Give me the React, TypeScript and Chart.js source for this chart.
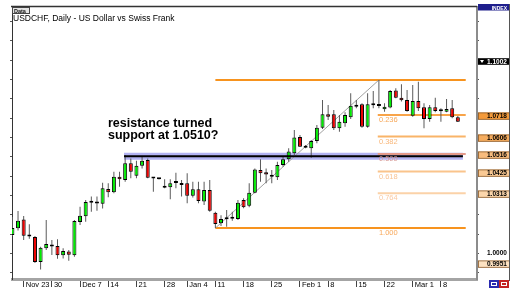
import React, { useEffect, useRef } from 'react';
import { Chart, registerables } from 'chart.js';
Chart.register(...registerables);

// Daily USDCHF candles, one per trading day (index 0 = Nov 19, 2009 ... index 79 = Mar 11, 2010)
const opens = [1.0096, 1.0131, 1.0177, 1.0090, 1.0086, 0.9956, 1.0027, 1.0038, 1.0039, 0.9991,
  1.0010, 0.9991, 1.0163, 1.0193, 1.0269, 1.0261, 1.0258, 1.0334, 1.0317, 1.0398,
  1.0381, 1.0468, 1.0403, 1.0455, 1.0485, 1.0391, 1.0387, 1.0351, 1.0343, 1.0367,
  1.0366, 1.0364, 1.0299, 1.0333, 1.0269, 1.0329, 1.0212, 1.0157, 1.0180, 1.0182,
  1.0179, 1.0277, 1.0248, 1.0315, 1.0433, 1.0421, 1.0400, 1.0395, 1.0459, 1.0488,
  1.0519, 1.0604, 1.0557, 1.0545, 1.0583, 1.0652, 1.0721, 1.0721, 1.0649, 1.0675,
  1.0706, 1.0761, 1.0773, 1.0657, 1.0770, 1.0769, 1.0747, 1.0756, 1.0844, 1.0807,
  1.0795, 1.0714, 1.0790, 1.0758, 1.0697, 1.0758, 1.0739, 1.0735, 1.0752, 1.0706];
const highs = [1.0189, 1.0220, 1.0194, 1.0152, 1.0091, 1.0035, 1.0174, 1.0070, 1.0074, 1.0027,
  1.0018, 1.0174, 1.0243, 1.0277, 1.0295, 1.0295, 1.0367, 1.0364, 1.0424, 1.0424,
  1.0511, 1.0493, 1.0481, 1.0505, 1.0493, 1.0393, 1.0388, 1.0385, 1.0385, 1.0419,
  1.0381, 1.0416, 1.0372, 1.0372, 1.0372, 1.0381, 1.0217, 1.0199, 1.0226, 1.0217,
  1.0277, 1.0286, 1.0364, 1.0441, 1.0488, 1.0441, 1.0433, 1.0476, 1.0502, 1.0545,
  1.0640, 1.0614, 1.0562, 1.0588, 1.0666, 1.0795, 1.0769, 1.0744, 1.0718, 1.0732,
  1.0830, 1.0795, 1.0778, 1.0830, 1.0842, 1.0899, 1.0778, 1.0847, 1.0856, 1.0877,
  1.0847, 1.0873, 1.0890, 1.0778, 1.0769, 1.0807, 1.0752, 1.0801, 1.0795, 1.0712];
const lows = [1.0091, 1.0119, 1.0070, 1.0077, 0.9951, 0.9918, 1.0018, 0.9992, 0.9973, 0.9975,
  0.9963, 0.9984, 1.0148, 1.0165, 1.0217, 1.0222, 1.0234, 1.0291, 1.0312, 1.0346,
  1.0372, 1.0390, 1.0390, 1.0441, 1.0390, 1.0320, 1.0384, 1.0338, 1.0281, 1.0338,
  1.0295, 1.0260, 1.0290, 1.0260, 1.0252, 1.0217, 1.0132, 1.0143, 1.0139, 1.0170,
  1.0174, 1.0235, 1.0240, 1.0312, 1.0372, 1.0364, 1.0364, 1.0381, 1.0450, 1.0476,
  1.0511, 1.0552, 1.0545, 1.0496, 1.0571, 1.0645, 1.0692, 1.0640, 1.0631, 1.0657,
  1.0697, 1.0752, 1.0652, 1.0652, 1.0752, 1.0752, 1.0735, 1.0752, 1.0804, 1.0787,
  1.0735, 1.0709, 1.0738, 1.0649, 1.0683, 1.0732, 1.0683, 1.0732, 1.0701, 1.0681];
const closes = [1.0132, 1.0170, 1.0092, 1.0088, 0.9956, 1.0030, 1.0049, 1.0036, 0.9991, 1.0013,
  0.9994, 1.0169, 1.0196, 1.0267, 1.0263, 1.0259, 1.0338, 1.0317, 1.0398, 1.0385,
  1.0468, 1.0424, 1.0455, 1.0481, 1.0393, 1.0389, 1.0385, 1.0341, 1.0364, 1.0365,
  1.0355, 1.0299, 1.0333, 1.0272, 1.0329, 1.0222, 1.0153, 1.0179, 1.0178, 1.0180,
  1.0263, 1.0240, 1.0315, 1.0436, 1.0416, 1.0410, 1.0398, 1.0459, 1.0488, 1.0528,
  1.0601, 1.0553, 1.0548, 1.0583, 1.0652, 1.0721, 1.0709, 1.0649, 1.0683, 1.0718,
  1.0766, 1.0769, 1.0657, 1.0773, 1.0768, 1.0764, 1.0761, 1.0842, 1.0807, 1.0794,
  1.0738, 1.0790, 1.0752, 1.0697, 1.0758, 1.0738, 1.0737, 1.0749, 1.0706, 1.0683];

const xTickIndex = [2, 7, 12, 17, 22, 27, 31, 36, 41, 46, 51, 56, 61, 66, 71, 76];
const xTickLabels = ['Nov 23', '30', 'Dec 7', '14', '21', '28', 'Jan 4', '11', '18', '25', 'Feb 1', '8', '15', '22', 'Mar 1', '8'];

const yTickValues = [1.1202, 1.1102, 1.1002, 1.0902, 1.0802, 1.0701, 1.0601, 1.0501, 1.0401, 1.0301, 1.0200, 1.0100, 1.0000, 0.9900];
const yLabelled = [1.0000];

const fibPrices = [1.0899, 1.0718, 1.0606, 1.0516, 1.0425, 1.0313, 1.0132];
const fibNames = ['', '0.236', '0.382', '0.500', '0.618', '0.764', '1.000'];
const fibStartX = [36, 64.8, 64.8, 64.8, 64.8, 64.8, 36];
const fibEndX = [80.4, 80.4, 80.4, 80.4, 80.4, 80.4, 80.4];
const fibLabelX = 65;
const fibLineColors = ['#F7931E', '#F8A449', '#F9B468', '#E49A8A', '#FAC48C', '#FBD2A8', '#F7931E'];
const fibTextColors = ['', '#F6A85A', '#F8B77A', '#D99C98', '#F9C393', '#FAC9A2', '#F8A85A'];

const trendX = [36, 65];
const trendY = [1.0132, 1.0899];

const supportPrice = 1.0504;
const supportX = [19.8, 79.9];

const boxPrices = [1.0718, 1.0606, 1.0516, 1.0425, 1.0313, 0.9951];
const boxLabels = ['1.0718', '1.0606', '1.0516', '1.0425', '1.0313', '0.9951'];
const boxColors = ['#F39A3A', '#F5AC5E', '#F7BC7E', '#F9C994', '#FBD6AC', '#FDE2C2'];
const markerPrice = 1.1002;
const markerLabel = '1.1002';

const noteLines = ['resistance turned', 'support at 1.0510?'];
const noteX = 16.95;
const notePrices = [1.0658, 1.0591];

const Y_MIN = 0.98682;
const Y_MAX = 1.12771;
const X_MIN = -0.07;
const X_MAX = 82.4;

const FONT = '"Liberation Sans", Arial, sans-serif';

const overlay = {
  id: 'overlay',
  afterDatasetsDraw(chart: any) {
    const { ctx, scales } = chart;
    const x = scales.x, y = scales.y;
    ctx.save();
    ctx.textAlign = 'left';
    ctx.textBaseline = 'alphabetic';
    ctx.font = '7.5px ' + FONT;
    fibNames.forEach((n, i) => {
      if (!n) return;
      ctx.fillStyle = fibTextColors[i];
      ctx.fillText(n, x.getPixelForValue(fibLabelX), y.getPixelForValue(fibPrices[i]) + 7);
    });
    ctx.font = 'bold 12.5px ' + FONT;
    ctx.fillStyle = '#000';
    noteLines.forEach((t, i) => {
      ctx.fillText(t, x.getPixelForValue(noteX), y.getPixelForValue(notePrices[i]));
    });
    ctx.restore();
  },
  afterDraw(chart: any) {
    const { ctx, chartArea, scales } = chart;
    const y = scales.y;
    ctx.save();
    ctx.strokeStyle = '#333';
    ctx.lineWidth = 1.5;
    ctx.beginPath();
    ctx.moveTo(chartArea.left - 1, 6.5);
    ctx.lineTo(chartArea.right, 6.5);
    ctx.stroke();
    ctx.strokeStyle = '#555';
    ctx.lineWidth = 1;
    ctx.beginPath();
    ctx.moveTo(509.5, 4);
    ctx.lineTo(509.5, 281);
    ctx.stroke();
    ctx.fillStyle = '#E4E4E4';
    ctx.fillRect(12, 7, 18, 6.5);
    ctx.strokeStyle = '#444';
    ctx.strokeRect(12.5, 7.5, 17, 6);
    ctx.fillStyle = '#111';
    ctx.font = 'bold 5.5px ' + FONT;
    ctx.textBaseline = 'alphabetic';
    ctx.textAlign = 'left';
    ctx.fillText('Data', 14, 12.8);
    ctx.font = '8.5px ' + FONT;
    ctx.fillStyle = '#000';
    ctx.fillText('USDCHF, Daily - US Dollar vs Swiss Frank', 13, 21);
    ctx.fillStyle = '#1E1E8C';
    ctx.fillRect(478, 4, 31, 6.5);
    ctx.fillStyle = '#fff';
    ctx.font = 'bold 5px ' + FONT;
    ctx.textAlign = 'right';
    ctx.fillText('INDEX', 507, 9.5);
    ctx.textAlign = 'left';
    ctx.beginPath();
    ctx.rect(478, 0, 31, 308);
    ctx.clip();
    ctx.font = 'bold 6.5px ' + FONT;
    ctx.textBaseline = 'middle';
    boxPrices.forEach((p, i) => {
      const py = Math.round(y.getPixelForValue(p)) + 1;
      ctx.fillStyle = boxColors[i];
      ctx.fillRect(478, py - 3.5, 31, 7);
      ctx.strokeStyle = '#8A5A2A';
      ctx.lineWidth = 0.8;
      ctx.strokeRect(478.4, py - 3.1, 31, 6.4);
      ctx.fillStyle = '#000';
      ctx.fillText(boxLabels[i], 487, py + 0.5);
    });
    const my = Math.round(y.getPixelForValue(markerPrice)) + 1.5;
    ctx.fillStyle = '#000';
    ctx.fillRect(478, my - 3.3, 31, 6.6);
    ctx.fillStyle = '#fff';
    ctx.beginPath();
    ctx.moveTo(480, my - 1.5);
    ctx.lineTo(484, my - 1.5);
    ctx.lineTo(482, my + 1.5);
    ctx.closePath();
    ctx.fill();
    ctx.fillText(markerLabel, 487, my + 0.5);
    ctx.restore();
    ctx.save();
    ctx.fillStyle = '#2A2AB0';
    ctx.fillRect(489, 280, 10, 8);
    ctx.fillStyle = '#C42424';
    ctx.fillRect(499, 280, 10, 8);
    ctx.strokeStyle = '#fff';
    ctx.lineWidth = 1;
    ctx.strokeRect(491.5, 282.5, 5, 3);
    ctx.strokeRect(501.5, 282.5, 5, 3);
    ctx.restore();
  },
};

const noPad = (s: any) => {
  s.paddingTop = 0;
  s.paddingBottom = 0;
  s.paddingLeft = 0;
  s.paddingRight = 0;
};

export default function App() {
  const ref = useRef<HTMLCanvasElement>(null);
  useEffect(() => {
    const bodyColors = opens.map((o, i) => (closes[i] >= o ? '#00EE00' : '#EE0000'));
    const fibSets = fibPrices.map((p, i) => ({
      type: 'line' as const,
      data: [{ x: fibStartX[i], y: p }, { x: fibEndX[i], y: p }],
      borderColor: fibLineColors[i],
      borderWidth: 2,
      pointRadius: 0,
      fill: false,
      order: 9,
    }));
    const chart = new Chart(ref.current as HTMLCanvasElement, {
      type: 'bar',
      data: {
        datasets: [
          {
            type: 'line',
            data: [{ x: supportX[0], y: supportPrice }, { x: supportX[1], y: supportPrice }],
            borderColor: '#B2B2F2',
            borderWidth: 7,
            pointRadius: 0,
            fill: false,
            order: 10,
          } as any,
          ...fibSets,
          {
            type: 'line',
            data: [{ x: trendX[0], y: trendY[0] }, { x: trendX[1], y: trendY[1] }],
            borderColor: '#A0A0A0',
            borderWidth: 1,
            pointRadius: 0,
            fill: false,
            order: 8,
          } as any,
          {
            type: 'bar',
            data: lows.map((l, i) => ({ x: i, y: [l, highs[i]] })),
            backgroundColor: '#5A5A5A',
            borderWidth: 0,
            barThickness: 1,
            grouped: false,
            inflateAmount: 0,
            order: 3,
          } as any,
          {
            type: 'bar',
            data: opens.map((o, i) => ({ x: i, y: [o, closes[i]] })),
            backgroundColor: bodyColors,
            borderColor: '#000',
            borderWidth: 1,
            borderSkipped: false,
            barThickness: 4,
            minBarLength: 2,
            grouped: false,
            inflateAmount: 0,
            order: 2,
          } as any,
          {
            type: 'line',
            data: [{ x: supportX[0], y: supportPrice }, { x: supportX[1], y: supportPrice }],
            borderColor: '#000',
            borderWidth: 2,
            pointRadius: 0,
            fill: false,
            order: 1,
          } as any,
        ],
      },
      options: {
        responsive: false,
        maintainAspectRatio: false,
        animation: false,
        devicePixelRatio: 1,
        events: [],
        layout: { padding: { left: 10, right: 17, top: 7, bottom: 0 } },
        plugins: { legend: { display: false }, tooltip: { enabled: false } },
        scales: {
          x: {
            type: 'linear',
            min: X_MIN,
            max: X_MAX,
            offset: false,
            afterBuildTicks: (s: any) => { s.ticks = xTickIndex.map((v) => ({ value: v })); },
            afterFit: (s: any) => { s.height = 29; noPad(s); },
            ticks: {
              autoSkip: false,
              maxRotation: 0,
              minRotation: 0,
              align: 'start',
              padding: -7,
              color: '#000',
              font: { size: 7.5, family: FONT },
              callback: (_v: any, idx: number) => ' ' + xTickLabels[idx],
            },
            grid: { drawOnChartArea: false, drawTicks: true, tickLength: 8, tickColor: '#444', offset: false },
            border: { display: true, color: '#A4A4A4', width: 3 },
          },
          y: {
            type: 'linear',
            position: 'right',
            min: Y_MIN,
            max: Y_MAX,
            afterBuildTicks: (s: any) => { s.ticks = yTickValues.map((v) => ({ value: v })); },
            afterFit: (s: any) => { s.width = 33; noPad(s); },
            ticks: {
              autoSkip: false,
              padding: 8,
              color: '#000',
              font: { size: 6.5, weight: 'bold', family: FONT },
              callback: (v: any) => (yLabelled.some((l) => Math.abs(l - v) < 1e-6) ? Number(v).toFixed(4) : ''),
            },
            grid: { drawOnChartArea: false, tickLength: 2, tickColor: '#555' },
            border: { display: true, color: '#8C8C8C', width: 2 },
          },
          yl: {
            type: 'linear',
            position: 'left',
            min: Y_MIN,
            max: Y_MAX,
            afterBuildTicks: (s: any) => { s.ticks = yTickValues.map((v) => ({ value: v })); },
            afterFit: (s: any) => { s.width = 2; noPad(s); },
            ticks: { display: false },
            grid: { drawOnChartArea: false, tickLength: 2, tickColor: '#555' },
            border: { display: true, color: '#333', width: 1 },
          },
        },
      } as any,
      plugins: [overlay],
    });
    return () => chart.destroy();
  }, []);
  return (
    <div style={{ position: 'absolute', left: 0, top: 0, width: 527, height: 308, background: '#fff' }}>
      <canvas ref={ref} width={527} height={308} style={{ display: 'block', width: 527, height: 308 }} />
    </div>
  );
}
